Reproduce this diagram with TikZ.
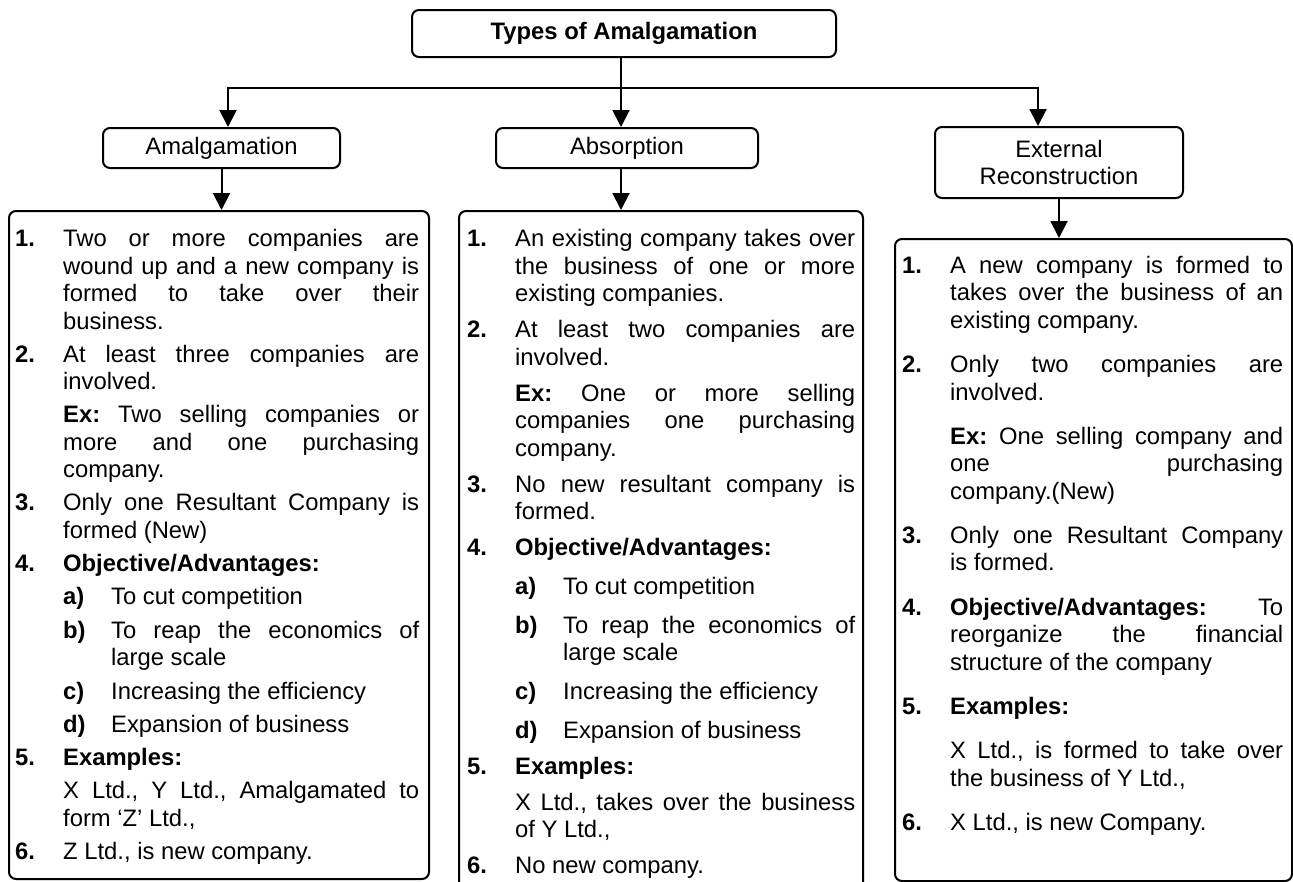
\documentclass[tikz,border=0pt]{standalone}
\usepackage{fontspec}
\setmainfont{Liberation Sans}
\usetikzlibrary{arrows.meta}

% list layout inside the panels
\newlength\lblw
\newlength\sublw
\newlength\subgap
\newcommand\itm[2]{\par\noindent\hangindent=\lblw\hangafter=0\relax
  \llap{\makebox[\lblw][l]{\textbf{#1}}}#2}
\newcommand\cont[1]{\par\noindent\hangindent=\lblw\hangafter=0\relax #1}
\newcommand\subitm[2]{\par\vspace{\subgap}\noindent
  \hangindent=\dimexpr\lblw+\sublw\relax\hangafter=0\relax
  \llap{\makebox[\sublw][l]{\textbf{#1}}}#2}
\newcommand\bodyset[2]{\fontsize{23.8pt}{27.5pt}\selectfont
  \setlength\parskip{#1}\setlength\subgap{#2}%
  \setlength\lblw{48pt}\setlength\sublw{48pt}%
  \frenchspacing
  \spaceskip=0pt \xspaceskip=0pt \leftskip=0pt \rightskip=0pt
  \tolerance=10000 \hbadness=10000 \emergencystretch=0pt
  \hyphenpenalty=10000 \exhyphenpenalty=10000
  \parfillskip=0pt plus 1fil\relax}
% a justified text column whose anchor is its first baseline
\newenvironment{column}[3]{\begin{minipage}[t]{#1}\bodyset{#2}{#3}}{\par\end{minipage}}

\tikzset{
  box/.style={draw, line width=2pt, rounded corners=7pt, inner sep=0pt},
  head/.style={box, font=\bfseries\fontsize{23.8pt}{27.5pt}\selectfont},
  kind/.style={box, align=center, font=\fontsize{23.8pt}{27.5pt}\selectfont},
  panel/.style={box, anchor=north west},
  body/.style={anchor=base west, inner sep=0pt},
  link/.style={line width=2pt},
  arr/.style={line width=2pt, -{Triangle[width=17pt,length=17pt]}}
}

\begin{document}
\begin{tikzpicture}[x=1pt,y=-1pt]
\useasboundingbox (0,0) rectangle (1293,881);
\clip (0,0) rectangle (1293,881);

% headings
\node[head, minimum width=424pt, minimum height=47pt] (title) at (624,33.5) {Types of Amalgamation};
\node[kind, minimum width=237pt, minimum height=40pt] (amal) at (221.5,148) {Amalgamation};
\node[kind, minimum width=262pt, minimum height=40pt] (absr) at (627,148) {Absorption};
\node[kind, minimum width=248pt, minimum height=71pt] (extr) at (1059,162.5) {External\\Reconstruction};

% panels
\node[panel, minimum width=420pt, minimum height=668pt] (amalbox) at (8,210) {};
\node[panel, minimum width=404pt, minimum height=720pt] (absrbox) at (458,210) {};
\node[panel, minimum width=397pt, minimum height=642pt] (extrbox) at (894,238) {};

% connectors
\coordinate (bus) at (621,88);
\coordinate (jl) at (228,88);
\coordinate (jr) at (1038,88);
\draw[link] (title.south -| bus) -- (bus);
\draw[arr] (bus) -| (jl |- amal.north);
\draw[arr] (bus) -| (jr |- extr.north);
\draw[arr] (bus) -- (bus |- absr.north);
\draw[arr] (amal.south) -- (amal.south |- amalbox.north);
\draw[arr] (bus |- absr.south) -- (bus |- absrbox.north);
\draw[arr] (extr.south) -- (extr.south |- extrbox.north);

% panel texts
\node[body] (amaltext) at (15,246.7) {\begin{column}{404pt}{5.5pt}{0.5pt}%
\itm{1.}{Two or more companies are\linebreak wound up and a new company is\linebreak formed to take over their\linebreak business.}
\itm{2.}{At least three companies are\linebreak involved.}
\cont{\textbf{Ex:} Two selling companies or\linebreak more and one purchasing\linebreak company.}
\itm{3.}{Only one Resultant Company is\linebreak formed (New)}
\itm{4.}{\textbf{Objective/Advantages:}}
\subitm{a)}{To cut competition}
\subitm{b)}{To reap the economics of\linebreak large scale}
\subitm{c)}{Increasing the efficiency}
\subitm{d)}{Expansion of business}
\itm{5.}{\textbf{Examples:}}
\cont{X Ltd., Y Ltd., Amalgamated to\linebreak form ‘Z’ Ltd.,}
\itm{6.}{Z Ltd., is new company.}
\end{column}};

\node[body] (absrtext) at (467,246.7) {\begin{column}{388pt}{8.5pt}{2.8pt}%
\itm{1.}{An existing company takes over\linebreak the business of one or more\linebreak existing companies.}
\itm{2.}{At least two companies are\linebreak involved.}
\cont{\textbf{Ex:} One or more selling\linebreak companies one purchasing\linebreak company.}
\itm{3.}{No new resultant company is\linebreak formed.}
\itm{4.}{\textbf{Objective/Advantages:}}
\subitm{a)}{To cut competition}
\subitm{b)}{To reap the economics of\linebreak large scale}
\subitm{c)}{Increasing the efficiency}
\subitm{d)}{Expansion of business}
\itm{5.}{\textbf{Examples:}}
\cont{X Ltd., takes over the business\linebreak of Y Ltd.,}
\itm{6.}{No new company.}
\end{column}};

\node[body] (extrtext) at (902,273.3) {\begin{column}{381pt}{16.7pt}{0pt}%
\itm{1.}{A new company is formed to\linebreak takes over the business of an\linebreak existing company.}
\itm{2.}{Only two companies are\linebreak involved.}
\cont{\textbf{Ex:} One selling company and\linebreak one purchasing\linebreak company.(New)}
\itm{3.}{Only one Resultant Company\linebreak is formed.}
\itm{4.}{\textbf{Objective/Advantages:} To\linebreak reorganize the financial\linebreak structure of the company}
\itm{5.}{\textbf{Examples:}}
\cont{X Ltd., is formed to take over\linebreak the business of Y Ltd.,}
\itm{6.}{X Ltd., is new Company.}
\end{column}};
\end{tikzpicture}
\end{document}
